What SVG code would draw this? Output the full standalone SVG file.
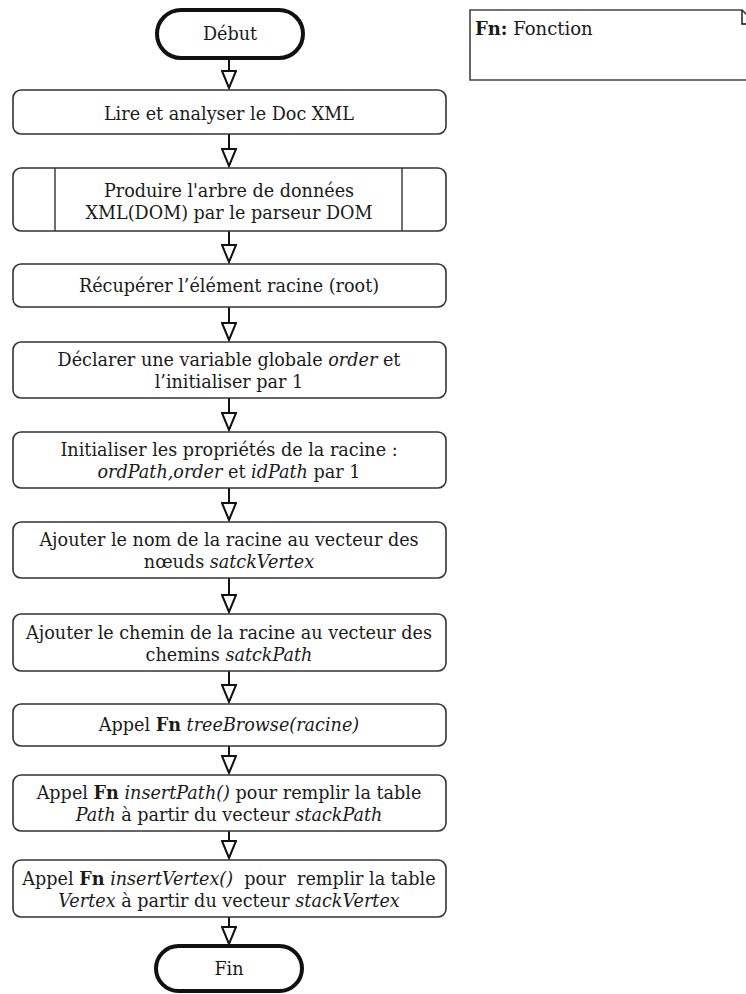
<svg xmlns="http://www.w3.org/2000/svg" width="746" height="994" viewBox="0 0 746 994">
  <style>
    text { font-family: "DejaVu Serif", "Liberation Serif", serif; font-size: 17.6px; fill: #1a1a1a; text-anchor: middle; white-space: pre; }
    .i { font-style: italic; }
    .b { font-weight: bold; }
    .box { fill: #fff; stroke: #333; stroke-width: 1.6; }
    .term { fill: #fff; stroke: #111; stroke-width: 4; }
    .conn { stroke: #111; stroke-width: 2; fill: none; }
    .note { fill: #fff; stroke: #444; stroke-width: 1.6; }
    .legend { text-anchor: start; font-size: 18px; font-family: "DejaVu Serif", "Liberation Serif", serif; }
  </style>
  <defs>
    <!-- hollow triangular head, drawn along +x so orient="auto" turns it with the line -->
    <marker id="arrow" markerUnits="userSpaceOnUse" markerWidth="20" markerHeight="16" refX="18" refY="8" orient="auto" viewBox="0 0 20 16">
      <path d="M1,1 L1,15 L18,8 Z" fill="#fff" stroke="#111" stroke-width="2" stroke-linejoin="miter"/>
    </marker>
  </defs>
  <rect width="746" height="994" fill="#fff"/>

  <!-- legend note -->
  <g id="legend">
    <path class="note" d="M470,10 H742 L752,20 V80 H470 Z"/>
    <path d="M742,10 V24 H752" fill="none" stroke="#111" stroke-width="1.4"/>
    <text class="legend" x="475" y="35"><tspan class="b">Fn:</tspan> Fonction</text>
  </g>

  <!-- connectors -->
  <g id="connectors">
    <line class="conn" x1="229" y1="58" x2="229" y2="88" marker-end="url(#arrow)"/>
    <line class="conn" x1="229" y1="134" x2="229" y2="166" marker-end="url(#arrow)"/>
    <line class="conn" x1="229" y1="231" x2="229" y2="262" marker-end="url(#arrow)"/>
    <line class="conn" x1="229" y1="307" x2="229" y2="340" marker-end="url(#arrow)"/>
    <line class="conn" x1="229" y1="398" x2="229" y2="430" marker-end="url(#arrow)"/>
    <line class="conn" x1="229" y1="488" x2="229" y2="520" marker-end="url(#arrow)"/>
    <line class="conn" x1="229" y1="578" x2="229" y2="612" marker-end="url(#arrow)"/>
    <line class="conn" x1="229" y1="671" x2="229" y2="702" marker-end="url(#arrow)"/>
    <line class="conn" x1="229" y1="746" x2="229" y2="773" marker-end="url(#arrow)"/>
    <line class="conn" x1="229" y1="831" x2="229" y2="858" marker-end="url(#arrow)"/>
    <line class="conn" x1="229" y1="917" x2="229" y2="944" marker-end="url(#arrow)"/>
  </g>

  <g id="start">
    <rect class="term" x="157" y="10" width="146" height="48" rx="24"/>
    <text x="230" y="40">Début</text>
  </g>

  <g id="read-xml">
    <rect class="box" x="13" y="90" width="433" height="44" rx="8"/>
    <text x="229" y="120">Lire et analyser le Doc XML</text>
  </g>

  <g id="build-dom">
    <rect class="box" x="13" y="168" width="433" height="63" rx="8"/>
    <line x1="55" y1="168" x2="55" y2="231" stroke="#333" stroke-width="1.4"/>
    <line x1="402" y1="168" x2="402" y2="231" stroke="#333" stroke-width="1.4"/>
    <text x="229" y="197">Produire l'arbre de données</text>
    <text x="229" y="219">XML(DOM) par le parseur DOM</text>
  </g>

  <g id="get-root">
    <rect class="box" x="13" y="264" width="433" height="43" rx="8"/>
    <text x="229" y="292">Récupérer l’élément racine (root)</text>
  </g>

  <g id="declare-order">
    <rect class="box" x="13" y="342" width="433" height="56" rx="8"/>
    <text x="229" y="366">Déclarer une variable globale <tspan class="i">order</tspan> et</text>
    <text x="229" y="388">l’initialiser par 1</text>
  </g>

  <g id="init-root">
    <rect class="box" x="13" y="432" width="433" height="56" rx="8"/>
    <text x="229" y="456">Initialiser les propriétés de la racine :</text>
    <text x="229" y="478"><tspan class="i">ordPath,order</tspan> et <tspan class="i">idPath</tspan> par 1</text>
  </g>

  <g id="add-vertex">
    <rect class="box" x="13" y="522" width="433" height="56" rx="8"/>
    <text x="229" y="546">Ajouter le nom de la racine au vecteur des</text>
    <text x="229" y="568">nœuds <tspan class="i">satckVertex</tspan></text>
  </g>

  <g id="add-path">
    <rect class="box" x="13" y="614" width="433" height="57" rx="8"/>
    <text x="229" y="639">Ajouter le chemin de la racine au vecteur des</text>
    <text x="229" y="661">chemins <tspan class="i">satckPath</tspan></text>
  </g>

  <g id="tree-browse">
    <rect class="box" x="13" y="704" width="433" height="42" rx="8"/>
    <text x="229" y="731">Appel <tspan class="b">Fn</tspan> <tspan class="i">treeBrowse(racine)</tspan></text>
  </g>

  <g id="insert-path">
    <rect class="box" x="13" y="775" width="433" height="56" rx="8"/>
    <text x="229" y="799">Appel <tspan class="b">Fn</tspan> <tspan class="i">insertPath()</tspan> pour remplir la table</text>
    <text x="229" y="821"><tspan class="i">Path</tspan> à partir du vecteur <tspan class="i">stackPath</tspan></text>
  </g>

  <g id="insert-vertex">
    <rect class="box" x="13" y="860" width="433" height="57" rx="8"/>
    <text x="229" y="885">Appel <tspan class="b">Fn</tspan> <tspan class="i">insertVertex()</tspan>  pour  remplir la table</text>
    <text x="229" y="907"><tspan class="i">Vertex</tspan> à partir du vecteur <tspan class="i">stackVertex</tspan></text>
  </g>

  <g id="end">
    <rect class="term" x="156" y="946" width="146" height="45" rx="22.5"/>
    <text x="229" y="975">Fin</text>
  </g>
</svg>
